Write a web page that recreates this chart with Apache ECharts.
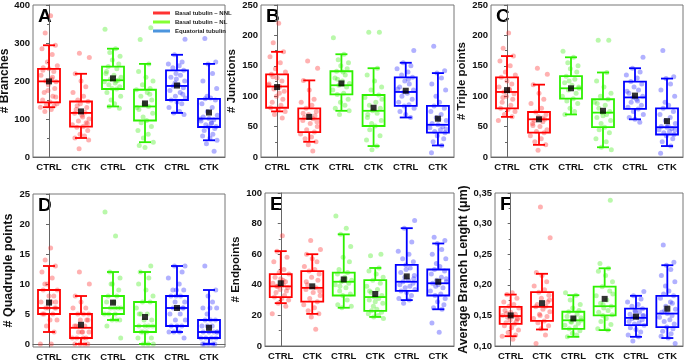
<!DOCTYPE html>
<html>
<head>
<meta charset="utf-8">
<script src="https://cdn.jsdelivr.net/npm/echarts@6/dist/echarts.min.js"></script>
<style>
  html, body {margin: 0; padding: 0; background: #fff;}
  #main {width: 685px; height: 361px;}
</style>
</head>
<body>
<div id="main"></div>
<script>
// categories and colours
const groups = ['CTRL', 'CTK', 'CTRL', 'CTK', 'CTRL', 'CTK'];
const seriesNames = ['Basal tubulin \u2013 NNL', 'Basal tubulin \u2013 NL', 'Equatorial tubulin'];
const boxColors = ['#ff0000', '#2ef000', '#0000ff'];
const dotColors = ['rgba(255,40,40,0.45)', 'rgba(60,235,20,0.45)', 'rgba(40,40,255,0.45)'];
const legendColors = ['#ff0000', '#66ff00', '#1f7ad6'];

// horizontal jitter offsets for the dots (reused per group)
const jitter = [0.05, -0.12, 0.2, -0.22, 0.1, -0.05, 0.26, -0.18, 0.0, 0.15, -0.25, 0.08, -0.1, 0.22, -0.02,
  0.18, -0.15, 0.12, -0.2, 0.03, 0.25, -0.08, 0.16, -0.27, 0.07, -0.13, 0.21, -0.03, 0.11, -0.19, 0.24, -0.06];

// box stats per group: [low whisker, Q1, median, Q3, high whisker, mean]
const statsA = [[131, 144, 199, 232, 294, 199], [50, 80, 116, 146, 219, 120], [133, 179, 202, 238, 285, 207],
  [39, 96, 133, 177, 245, 141], [116, 150, 187, 228, 269, 188], [44, 79, 101, 153, 245, 117]];
const statsB = [[75, 81, 116, 136, 173, 115], [25, 41, 63, 80, 126, 66], [76, 103, 118, 141, 169, 121],
  [18, 51, 76, 102, 146, 81], [65, 84, 107, 131, 155, 109], [19, 40, 53, 84, 138, 63]];
const statsC = [[66, 80, 107, 131, 166, 110], [20, 40, 62, 74, 119, 62], [70, 96, 113, 133, 164, 113],
  [16, 49, 73, 95, 139, 76], [62, 79, 98, 124, 146, 101], [18, 37, 49, 80, 129, 59]];
const statsD = [[2, 5, 6, 9, 13, 6.9], [0, 1, 2.7, 5, 8, 3.2], [4, 5, 6, 8, 12, 6.9],
  [0, 2, 3, 7, 12, 4.5], [2, 3, 6, 8, 13, 6], [0, 1, 2, 4, 9, 2.7]];
const statsE = [[28, 32, 39, 47, 62, 41], [21, 29, 38, 49, 60, 39], [25, 33, 42, 48, 73, 43.5],
  [19, 23, 32, 43, 51, 34], [30, 36, 42, 53, 77, 45.5], [24, 33, 41, 50, 67, 42]];
const statsF = [[0.116, 0.136, 0.149, 0.164, 0.184, 0.150], [0.127, 0.141, 0.164, 0.188, 0.218, 0.170],
  [0.115, 0.128, 0.142, 0.156, 0.183, 0.145], [0.126, 0.150, 0.165, 0.197, 0.227, 0.177],
  [0.115, 0.134, 0.146, 0.161, 0.182, 0.148], [0.113, 0.131, 0.153, 0.182, 0.232, 0.161]];

// individual measurements per group
const ptsA = [
  [372, 326, 294, 285, 270, 250, 240, 235, 232, 225, 215, 205, 200, 198, 190, 180, 170, 160, 150, 145, 140, 138, 135, 131, 125, 120, 158, 175, 210, 228],
  [273, 262, 219, 200, 185, 170, 160, 150, 146, 140, 130, 125, 118, 115, 110, 100, 95, 90, 85, 80, 78, 70, 60, 55, 50, 45, 22, 105, 135, 88],
  [336, 285, 275, 265, 255, 245, 238, 232, 225, 215, 210, 205, 202, 198, 195, 190, 185, 180, 179, 170, 160, 150, 140, 133, 128, 220, 200],
  [340, 309, 245, 225, 210, 200, 190, 180, 177, 170, 160, 150, 140, 133, 125, 115, 105, 96, 90, 80, 70, 60, 50, 39, 30, 25, 165, 130],
  [310, 269, 250, 245, 240, 235, 228, 220, 215, 210, 200, 195, 190, 187, 182, 175, 170, 160, 155, 150, 145, 140, 130, 120, 116, 112, 205, 165],
  [312, 250, 245, 220, 200, 180, 160, 155, 153, 150, 140, 130, 120, 110, 105, 101, 98, 95, 90, 85, 80, 79, 75, 70, 60, 55, 50, 44, 35, 15, 100, 88]
];
const ptsB = [
  [220, 188, 173, 165, 155, 145, 140, 136, 130, 125, 120, 116, 112, 108, 100, 95, 90, 85, 81, 78, 75, 70, 64, 118, 105, 132],
  [158, 146, 126, 110, 95, 90, 85, 80, 75, 70, 68, 65, 63, 60, 55, 50, 45, 41, 38, 33, 30, 25, 20, 10, 72, 58],
  [196, 169, 160, 155, 150, 145, 141, 135, 130, 125, 121, 118, 115, 110, 105, 103, 95, 90, 85, 80, 76, 70, 140, 128],
  [205, 205, 146, 135, 125, 115, 110, 102, 98, 90, 85, 80, 76, 72, 65, 60, 55, 51, 45, 35, 28, 18, 12, 95, 70],
  [175, 155, 150, 145, 140, 135, 131, 125, 120, 115, 110, 107, 105, 100, 95, 90, 86, 84, 80, 75, 70, 65, 112, 128],
  [182, 142, 138, 130, 120, 110, 100, 90, 84, 80, 75, 70, 65, 60, 55, 53, 50, 48, 45, 42, 40, 35, 30, 25, 19, 7, 62, 46]
];
const ptsC = [
  [204, 179, 166, 158, 150, 140, 135, 131, 125, 120, 115, 110, 107, 104, 100, 95, 90, 85, 80, 78, 75, 70, 66, 60, 112, 98],
  [146, 136, 119, 105, 95, 88, 80, 74, 70, 66, 62, 60, 58, 55, 50, 45, 42, 40, 35, 30, 25, 20, 11, 64, 52],
  [174, 164, 155, 150, 145, 140, 133, 128, 122, 118, 113, 110, 105, 100, 96, 92, 88, 80, 75, 70, 115, 125],
  [192, 192, 139, 125, 115, 105, 100, 95, 90, 85, 80, 75, 73, 70, 65, 60, 55, 49, 45, 40, 30, 25, 16, 12, 88, 68],
  [164, 146, 140, 135, 130, 124, 120, 115, 110, 105, 100, 98, 95, 90, 85, 82, 79, 75, 70, 65, 62, 57, 108, 92],
  [175, 132, 129, 120, 110, 100, 90, 85, 80, 75, 70, 65, 60, 55, 50, 49, 47, 45, 42, 40, 37, 35, 30, 25, 18, 6, 52, 44]
];
const ptsD = [
  [16, 14, 13, 12, 11, 10, 9, 9, 8, 8, 7, 7, 6, 6, 6, 6, 5, 5, 5, 4, 4, 3, 2, 0, 0, 10, 7],
  [12, 10, 8, 7, 6, 6, 5, 5, 4, 4, 4, 3, 3, 3, 2, 2, 2, 1, 1, 1, 1, 0, 0, 0, 0, 5, 3, 2],
  [22, 18, 12, 11, 10, 9, 8, 8, 7, 7, 6, 6, 6, 5, 5, 5, 4, 4, 4, 3, 1, 10, 6],
  [13, 12, 11, 10, 9, 8, 7, 7, 6, 5, 5, 4, 4, 3, 3, 3, 2, 2, 2, 1, 1, 0, 0, 0, 5, 3],
  [13, 13, 12, 11, 10, 9, 9, 8, 8, 8, 7, 7, 6, 6, 6, 5, 5, 4, 4, 3, 3, 3, 2, 2, 2, 1, 9, 6],
  [13, 9, 8, 7, 6, 6, 5, 4, 4, 4, 3, 3, 3, 2, 2, 2, 2, 1, 1, 1, 1, 0, 0, 0, 0, 0, 6, 2]
];
const ptsE = [
  [72, 62, 58, 55, 50, 48, 47, 45, 44, 42, 41, 40, 39, 38, 37, 36, 35, 33, 32, 31, 30, 28, 26, 21, 43, 39],
  [69, 63, 60, 57, 55, 52, 50, 49, 47, 45, 43, 40, 38, 37, 35, 33, 31, 29, 27, 25, 23, 21, 19, 11, 42, 36],
  [85, 77, 73, 65, 58, 55, 50, 48, 47, 45, 43, 42, 41, 40, 38, 36, 34, 33, 30, 27, 26, 25, 44, 39],
  [60, 59, 51, 49, 47, 45, 43, 41, 39, 37, 35, 33, 32, 31, 30, 28, 26, 24, 23, 22, 21, 20, 19, 18, 36, 29],
  [82, 77, 68, 62, 60, 57, 55, 53, 51, 48, 46, 45, 43, 42, 41, 40, 39, 38, 37, 36, 35, 33, 31, 30, 28, 44, 50],
  [71, 69, 67, 63, 60, 57, 54, 52, 50, 49, 47, 45, 43, 42, 41, 40, 38, 36, 34, 33, 31, 29, 27, 25, 24, 15, 9, 44, 39]
];
const ptsF = [
  [0.187, 0.184, 0.178, 0.172, 0.168, 0.165, 0.162, 0.158, 0.155, 0.152, 0.150, 0.149, 0.147, 0.145, 0.142, 0.140, 0.138, 0.136, 0.133, 0.130, 0.126, 0.122, 0.118, 0.116, 0.111, 0.153, 0.144],
  [0.327, 0.277, 0.220, 0.215, 0.205, 0.198, 0.192, 0.188, 0.183, 0.178, 0.172, 0.168, 0.165, 0.164, 0.160, 0.156, 0.152, 0.148, 0.145, 0.141, 0.138, 0.133, 0.128, 0.118, 0.104, 0.175, 0.150],
  [0.187, 0.183, 0.175, 0.168, 0.162, 0.158, 0.156, 0.152, 0.148, 0.145, 0.142, 0.140, 0.137, 0.134, 0.131, 0.128, 0.125, 0.121, 0.118, 0.115, 0.146, 0.139],
  [0.338, 0.235, 0.227, 0.222, 0.215, 0.205, 0.197, 0.190, 0.182, 0.175, 0.170, 0.165, 0.162, 0.158, 0.155, 0.151, 0.150, 0.145, 0.140, 0.135, 0.128, 0.126, 0.168, 0.185],
  [0.189, 0.182, 0.177, 0.172, 0.168, 0.165, 0.161, 0.158, 0.155, 0.152, 0.150, 0.148, 0.146, 0.145, 0.143, 0.140, 0.138, 0.136, 0.134, 0.130, 0.127, 0.123, 0.118, 0.115, 0.108, 0.149, 0.156],
  [0.265, 0.237, 0.232, 0.225, 0.215, 0.205, 0.198, 0.190, 0.185, 0.182, 0.178, 0.172, 0.165, 0.160, 0.155, 0.153, 0.150, 0.147, 0.143, 0.140, 0.136, 0.131, 0.128, 0.124, 0.120, 0.116, 0.113, 0.104, 0.158, 0.170]
];

const FONT = 'Liberation Sans';

// panel setup
const panels = [
  {letter: 'A', title: '# Branches', stats: statsA, pts: ptsA, min: 0, max: 400, interval: 100,
    grid: {left: 33, top: 5, width: 192, height: 152}, nameGap: 18, nameSize: 12},
  {letter: 'B', title: '# Junctions', stats: statsB, pts: ptsB, min: 0, max: 250, interval: 50,
    grid: {left: 261, top: 5, width: 193, height: 152}, nameGap: 17, nameSize: 11.5},
  {letter: 'C', title: '# Triple points', stats: statsC, pts: ptsC, min: 0, max: 250, interval: 50,
    grid: {left: 491, top: 5, width: 192, height: 152}, nameGap: 18, nameSize: 11.5},
  {letter: 'D', title: '# Quadruple points', stats: statsD, pts: ptsD, min: -0.5, max: 25, custom: [0, 5, 10, 15, 20, 25],
    grid: {left: 33, top: 194, width: 192, height: 153}, nameGap: 13, nameSize: 12.5},
  {letter: 'E', title: '# Endpoints', stats: statsE, pts: ptsE, min: 0, max: 100, interval: 20,
    grid: {left: 265, top: 193, width: 189, height: 153}, nameGap: 23, nameSize: 11.5},
  {letter: 'F', title: 'Average Branch Lenght (\u03bcm)', stats: statsF, pts: ptsF, min: 0.10, max: 0.35, interval: 0.05,
    grid: {left: 495, top: 193, width: 188, height: 153}, nameGap: 25, nameSize: 12.3,
    fmt: v => v.toFixed(2).replace('.', ',')}
];

function renderBox(params, api) {
  const x = api.value(0);
  const pLow = api.coord([x, api.value(1)]);
  const pQ1 = api.coord([x, api.value(2)]);
  const pMed = api.coord([x, api.value(3)]);
  const pQ3 = api.coord([x, api.value(4)]);
  const pHigh = api.coord([x, api.value(5)]);
  const cx = pMed[0];
  const hw = 11, cap = 6;
  const st = {stroke: api.visual('color'), fill: 'none', lineWidth: 1.8};
  return {
    type: 'group',
    children: [
      {type: 'rect', shape: {x: cx - hw, y: pQ3[1], width: hw * 2, height: pQ1[1] - pQ3[1]}, style: st},
      {type: 'line', shape: {x1: cx - hw, y1: pMed[1], x2: cx + hw, y2: pMed[1]}, style: st},
      {type: 'line', shape: {x1: cx, y1: pQ3[1], x2: cx, y2: pHigh[1]}, style: st},
      {type: 'line', shape: {x1: cx - cap, y1: pHigh[1], x2: cx + cap, y2: pHigh[1]}, style: st},
      {type: 'line', shape: {x1: cx, y1: pQ1[1], x2: cx, y2: pLow[1]}, style: st},
      {type: 'line', shape: {x1: cx - cap, y1: pLow[1], x2: cx + cap, y2: pLow[1]}, style: st}
    ]
  };
}

const option = {
  animation: false,
  backgroundColor: '#fff',
  grid: [], xAxis: [], yAxis: [], series: [], graphic: [],
  legend: {
    left: 148, top: 5, orient: 'vertical', itemGap: 3, itemWidth: 17, itemHeight: 3,
    icon: 'rect', textStyle: {fontFamily: FONT, fontSize: 6, fontWeight: 'bold', color: '#222'},
    data: seriesNames.map((n, i) => ({name: n, itemStyle: {color: legendColors[i]}}))
  }
};

panels.forEach((p, pi) => {
  option.grid.push(Object.assign({show: true, borderColor: '#777', borderWidth: 1, outerBoundsMode: 'none'}, p.grid));
  // visible category axis for labels
  option.xAxis.push({
    type: 'category', gridIndex: pi, data: groups, boundaryGap: true,
    axisLine: {lineStyle: {color: '#666', width: 1}},
    axisTick: {alignWithLabel: true, length: 3, lineStyle: {color: '#666'}},
    axisLabel: {interval: 0, fontFamily: FONT, fontSize: 9.5, fontWeight: 'bold', color: '#111', margin: 5}
  });
  // hidden numeric axis for positioning boxes and dots
  option.xAxis.push({type: 'value', gridIndex: pi, min: -0.5, max: 5.5, show: false});
  const yAx = {
    type: 'value', gridIndex: pi, min: p.min, max: p.max,
    name: p.title, nameLocation: 'middle', nameGap: p.nameGap,
    nameTextStyle: {fontFamily: FONT, fontSize: p.nameSize, fontWeight: 'bold', color: '#111'},
    axisLine: {show: true, lineStyle: {color: '#666', width: 1}},
    axisTick: {show: true, length: 3, lineStyle: {color: '#666'}},
    axisLabel: {fontFamily: FONT, fontSize: 9.5, fontWeight: 'bold', color: '#111', margin: 3},
    splitLine: {show: false}
  };
  if (p.interval) {
    yAx.interval = p.interval;
    yAx.minorTick = {show: true, splitNumber: 2, length: 2, lineStyle: {color: '#666'}};
  }
  if (p.custom) {
    yAx.axisLabel.customValues = p.custom;
    yAx.axisTick.customValues = p.custom;
  }
  if (p.fmt) yAx.axisLabel.formatter = p.fmt;
  option.yAxis.push(yAx);

  // panel letter
  option.graphic.push({
    type: 'text', left: p.grid.left + 5, top: p.grid.top + 2,
    style: {text: p.letter, font: 'bold 19px ' + FONT, fill: '#000'}
  });

  for (let c = 0; c < 3; c++) {
    const idx = [2 * c, 2 * c + 1];
    // dots
    const dots = [];
    idx.forEach(g => {
      p.pts[g].forEach((v, k) => dots.push([g + jitter[(k + g * 5) % jitter.length], v]));
    });
    option.series.push({
      type: 'scatter', name: seriesNames[c], xAxisIndex: pi * 2 + 1, yAxisIndex: pi,
      data: dots, symbolSize: 5, itemStyle: {color: dotColors[c]}, z: 2, silent: true
    });
    // boxes
    option.series.push({
      type: 'custom', name: seriesNames[c], xAxisIndex: pi * 2 + 1, yAxisIndex: pi,
      renderItem: renderBox, itemStyle: {color: boxColors[c]},
      encode: {x: 0, y: [1, 2, 3, 4, 5]},
      data: idx.map(g => [g].concat(p.stats[g].slice(0, 5))), z: 3, silent: true
    });
    // means
    option.series.push({
      type: 'scatter', name: seriesNames[c], xAxisIndex: pi * 2 + 1, yAxisIndex: pi,
      data: idx.map(g => [g, p.stats[g][5]]), symbol: 'rect', symbolSize: 6,
      itemStyle: {color: '#000'}, z: 4, silent: true
    });
  }
});

const chart = echarts.init(document.getElementById('main'));
chart.setOption(option);
</script>
</body>
</html>
